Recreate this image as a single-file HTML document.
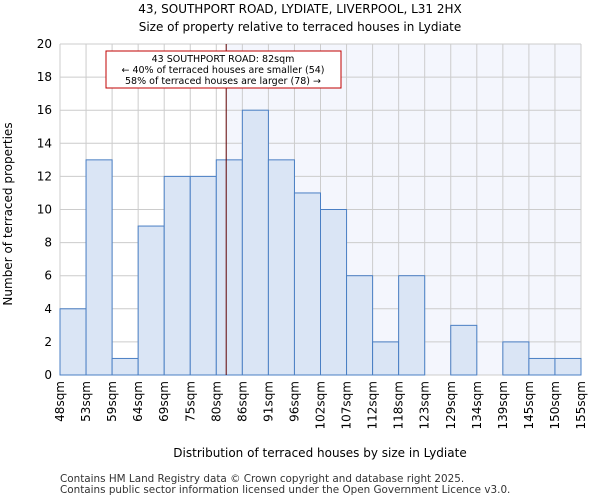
<!DOCTYPE html>
<html><head><meta charset="utf-8"><style>
body{margin:0;background:#fff;font-family:"DejaVu Sans","Liberation Sans",sans-serif}
</style></head><body>
<svg id="c" width="600" height="500" xmlns="http://www.w3.org/2000/svg" font-family="DejaVu Sans, Liberation Sans, sans-serif">
<text x="300" y="13" text-anchor="middle" font-size="12">43, SOUTHPORT ROAD, LYDIATE, LIVERPOOL, L31 2HX</text>
<text x="300" y="31" text-anchor="middle" font-size="12">Size of property relative to terraced houses in Lydiate</text>
<g id="plot"></g>
<text x="320" y="457" text-anchor="middle" font-size="12">Distribution of terraced houses by size in Lydiate</text>
<text transform="translate(12,214) rotate(-90)" text-anchor="middle" font-size="12">Number of terraced properties</text>
<text x="60" y="482" font-size="10.4" fill="#333">Contains HM Land Registry data © Crown copyright and database right 2025.</text>
<text x="60" y="493" font-size="10.4" fill="#333">Contains public sector information licensed under the Open Government Licence v3.0.</text>
</svg>
<script>
const categories=["48sqm","53sqm","59sqm","64sqm","69sqm","75sqm","80sqm","86sqm","91sqm","96sqm","102sqm","107sqm","112sqm","118sqm","123sqm","129sqm","134sqm","139sqm","145sqm","150sqm","155sqm"];
const counts=[4,13,1,9,12,12,13,16,13,11,10,6,2,6,0,3,0,2,1,1];
const yTicks=[0,2,4,6,8,10,12,14,16,18,20];
const propertyBin=6.38;
const NS="http://www.w3.org/2000/svg";
const L=60,R=581,T=44,B=375,n=counts.length,bw=(R-L)/n;
const x=i=>L+i*bw, y=v=>B-(v/20)*(B-T);
const g=document.getElementById('plot');
function mk(t,a){const e=document.createElementNS(NS,t);for(const k in a)e.setAttribute(k,a[k]);g.appendChild(e);return e;}
const px=x(propertyBin);
let e=mk('rect',{x:px,y:T,width:R-px,height:B-T,fill:'#f4f6fd'});


yTicks.forEach(t=>{
 let l=mk('line',{x1:L,x2:R,y1:y(t),y2:y(t),stroke:'#ccc'});
 
 
 let tx=mk('text',{x:L-8,y:y(t)+4,'text-anchor':'end','font-size':12});tx.textContent=t;
 
 
});
categories.forEach((c,i)=>{
 let l=mk('line',{x1:x(i),x2:x(i),y1:T,y2:B,stroke:'#ccc'});
 
 
 let tx=mk('text',{transform:`translate(${x(i)+4},${B+6}) rotate(-90)`,'text-anchor':'end','font-size':12});tx.textContent=c;
 
 
});
counts.forEach((v,i)=>{
 if(v<=0)return;
 let r=mk('rect',{x:x(i),y:y(v),width:bw,height:B-y(v),fill:'#dae5f5',stroke:'#4a7fc4','stroke-width':1});
 
 
});
e=mk('line',{x1:px,x2:px,y1:T,y2:B,stroke:'#600000','stroke-width':1});


e=mk('rect',{x:106,y:51,width:235,height:37,fill:'#fff',stroke:'#c00000'});


["43 SOUTHPORT ROAD: 82sqm","← 40% of terraced houses are smaller (54)","58% of terraced houses are larger (78) →"].forEach((s,k)=>{
 let t=mk('text',{x:223,y:62+k*11,'text-anchor':'middle','font-size':9.5});t.textContent=s;
 
 
});
</script>
</body></html>
